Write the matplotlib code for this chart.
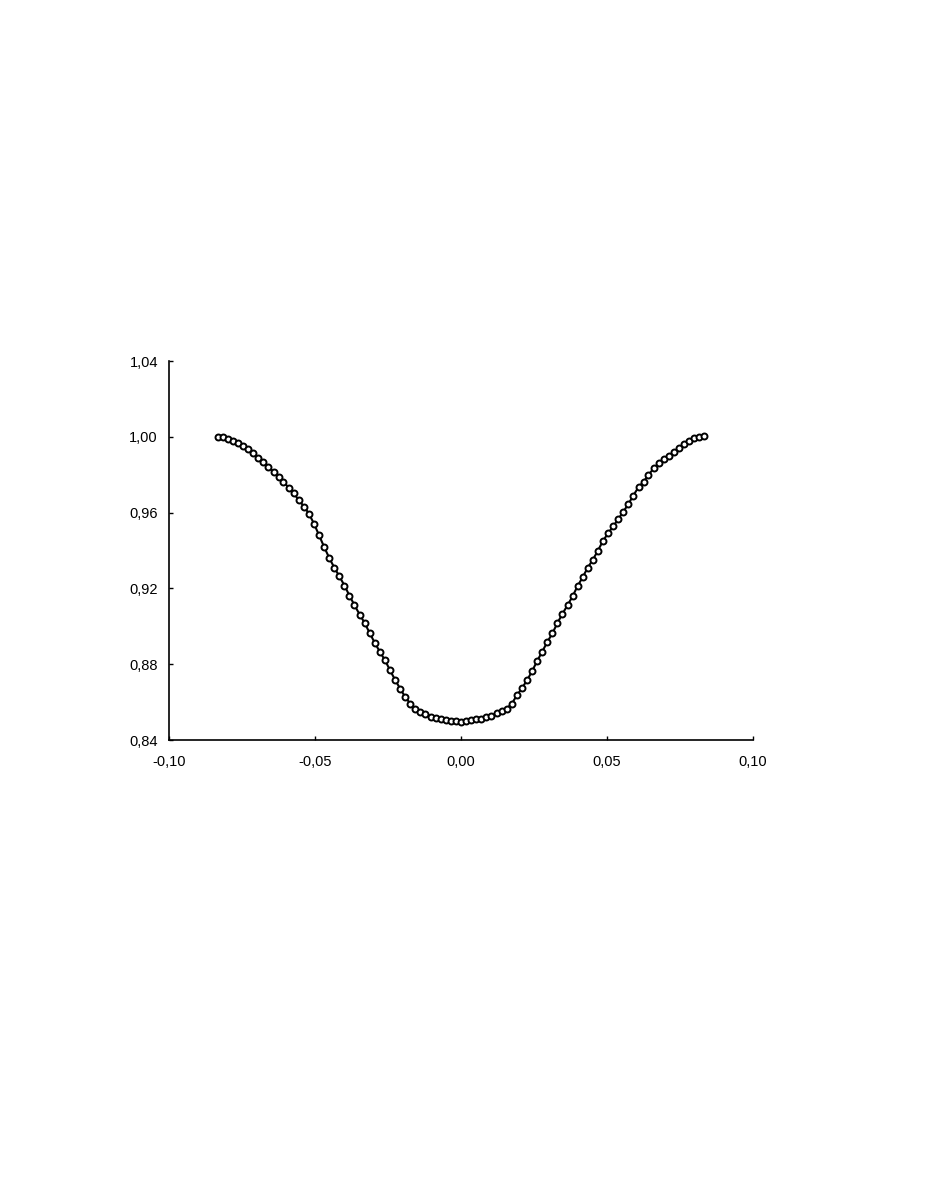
import matplotlib
matplotlib.use("Agg")
import matplotlib.pyplot as plt
from matplotlib.ticker import FuncFormatter

plt.rcParams['font.family'] = ['Liberation Sans', 'DejaVu Sans']

# phase / flux values
phase = [
    -0.0833, -0.0816, -0.0799, -0.0781, -0.0764, -0.0747, -0.0729, -0.0712,
    -0.0694, -0.0677, -0.0660, -0.0642, -0.0625, -0.0608, -0.0590, -0.0573,
    -0.0556, -0.0538, -0.0521, -0.0503, -0.0486, -0.0469, -0.0451, -0.0434,
    -0.0417, -0.0399, -0.0382, -0.0365, -0.0347, -0.0330, -0.0313, -0.0295,
    -0.0278, -0.0260, -0.0243, -0.0226, -0.0208, -0.0191, -0.0174, -0.0156,
    -0.0139, -0.0122, -0.0104, -0.0087, -0.0069, -0.0052, -0.0035, -0.0017,
    0.0000, 0.0017, 0.0035, 0.0052, 0.0069, 0.0087, 0.0104, 0.0122,
    0.0139, 0.0156, 0.0174, 0.0191, 0.0208, 0.0226, 0.0243, 0.0260,
    0.0278, 0.0295, 0.0313, 0.0330, 0.0347, 0.0365, 0.0382, 0.0399,
    0.0417, 0.0434, 0.0451, 0.0469, 0.0486, 0.0503, 0.0521, 0.0538,
    0.0556, 0.0573, 0.0590, 0.0608, 0.0625, 0.0642, 0.0660, 0.0677,
    0.0694, 0.0712, 0.0729, 0.0747, 0.0764, 0.0781, 0.0799, 0.0816,
    0.0833,
]
flux = [
    1.0000, 0.9999, 0.9990, 0.9978, 0.9966, 0.9954, 0.9936, 0.9915,
    0.9890, 0.9868, 0.9842, 0.9815, 0.9789, 0.9762, 0.9732, 0.9701,
    0.9668, 0.9632, 0.9595, 0.9540, 0.9480, 0.9420, 0.9360, 0.9310,
    0.9265, 0.9215, 0.9162, 0.9112, 0.9062, 0.9018, 0.8965, 0.8912,
    0.8866, 0.8820, 0.8768, 0.8718, 0.8670, 0.8627, 0.8592, 0.8562,
    0.8549, 0.8537, 0.8524, 0.8517, 0.8511, 0.8506, 0.8501, 0.8498,
    0.8497, 0.8499, 0.8505, 0.8509, 0.8512, 0.8520, 0.8527, 0.8540,
    0.8553, 0.8565, 0.8592, 0.8635, 0.8672, 0.8715, 0.8762, 0.8815,
    0.8866, 0.8916, 0.8963, 0.9017, 0.9065, 0.9112, 0.9158, 0.9212,
    0.9260, 0.9310, 0.9350, 0.9400, 0.9450, 0.9490, 0.9527, 0.9565,
    0.9605, 0.9645, 0.9690, 0.9735, 0.9762, 0.9800, 0.9833, 0.9861,
    0.9882, 0.9900, 0.9920, 0.9943, 0.9963, 0.9976, 0.9993, 1.0001,
    1.0002,
]
xticks = [-0.10, -0.05, 0.00, 0.05, 0.10]
yticks = [0.84, 0.88, 0.92, 0.96, 1.00, 1.04]

fig = plt.figure(figsize=(9.26, 11.99), dpi=100)
ax = fig.add_axes([0.1825, 0.3828, 0.6307, 0.3161])

ax.plot(phase, flux, color='black', lw=1.5, marker='o', ms=4.3,
        mfc='white', mec='black', mew=1.4)

ax.set_xlim(-0.10, 0.10)
ax.set_ylim(0.84, 1.04)
ax.set_xticks(xticks)
ax.set_yticks(yticks)

comma = FuncFormatter(lambda v, p: f"{v:.2f}".replace('.', ','))
ax.xaxis.set_major_formatter(comma)
ax.yaxis.set_major_formatter(comma)

for s in ['top', 'right']:
    ax.spines[s].set_visible(False)
for s in ['left', 'bottom']:
    ax.spines[s].set_linewidth(1.2)

ax.tick_params(direction='in', length=3, width=1, labelsize=10.5)
ax.tick_params(axis='x', pad=10.5)
ax.tick_params(axis='y', pad=8)

fig.savefig('out.png', dpi=100)
